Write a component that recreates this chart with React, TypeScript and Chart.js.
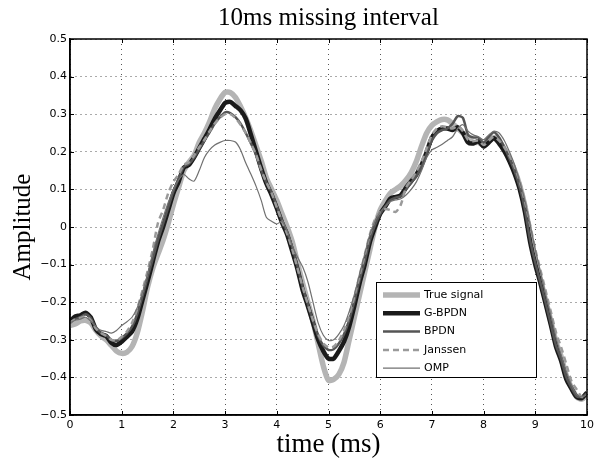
import React, { useEffect, useRef } from "react";
import { Chart, registerables } from "chart.js";

Chart.register(...registerables);

const TITLE = "10ms missing interval";
const X_LABEL = "time (ms)";
const Y_LABEL = "Amplitude";

const xTicks = [0, 1, 2, 3, 4, 5, 6, 7, 8, 9, 10];
const yTicks = [-0.5, -0.4, -0.3, -0.2, -0.1, 0, 0.1, 0.2, 0.3, 0.4, 0.5];

const times = [
  0.0, 0.1, 0.2, 0.3, 0.4, 0.5, 0.6, 0.7, 0.8, 0.9,
  1.0, 1.1, 1.2, 1.3, 1.4, 1.5, 1.6, 1.7, 1.8, 1.9,
  2.0, 2.1, 2.2, 2.3, 2.4, 2.5, 2.6, 2.7, 2.8, 2.9,
  3.0, 3.1, 3.2, 3.3, 3.4, 3.5, 3.6, 3.7, 3.8, 3.9,
  4.0, 4.1, 4.2, 4.3, 4.4, 4.5, 4.6, 4.7, 4.8, 4.9,
  5.0, 5.1, 5.2, 5.3, 5.4, 5.5, 5.6, 5.7, 5.8, 5.9,
  6.0, 6.1, 6.2, 6.3, 6.4, 6.5, 6.6, 6.7, 6.8, 6.9,
  7.0, 7.1, 7.2, 7.3, 7.4, 7.5, 7.6, 7.7, 7.8, 7.9,
  8.0, 8.1, 8.2, 8.3, 8.4, 8.5, 8.6, 8.7, 8.8, 8.9,
  9.0, 9.1, 9.2, 9.3, 9.4, 9.5, 9.6, 9.7, 9.8, 9.9,
  10.0,
];

const trueSignal = [
  -0.262, -0.258, -0.25, -0.248, -0.255, -0.275, -0.29, -0.3, -0.315, -0.33,
  -0.336, -0.333, -0.318, -0.282, -0.225, -0.16, -0.11, -0.072, -0.035, 0.01,
  0.06, 0.105, 0.15, 0.172, 0.19, 0.225, 0.25, 0.28, 0.315, 0.34,
  0.358, 0.358, 0.345, 0.32, 0.29, 0.255, 0.215, 0.175, 0.13, 0.1,
  0.07, 0.035, 0.0, -0.04, -0.095, -0.15, -0.2, -0.25, -0.31, -0.37,
  -0.408, -0.405, -0.392, -0.36, -0.3, -0.24, -0.18, -0.12, -0.06, 0.0,
  0.045, 0.07, 0.09, 0.1, 0.11, 0.125, 0.145, 0.175, 0.215, 0.25,
  0.27, 0.28, 0.286, 0.285, 0.275, 0.262, 0.25, 0.235, 0.225, 0.225,
  0.218, 0.228, 0.238, 0.228, 0.208, 0.182, 0.15, 0.11, 0.055, -0.02,
  -0.085, -0.14, -0.195, -0.25, -0.305, -0.345, -0.395, -0.428, -0.452, -0.458,
  -0.445,
];

const gBpdn = [
  -0.25, -0.238, -0.235, -0.228, -0.24, -0.272, -0.285, -0.29, -0.308, -0.314,
  -0.305, -0.292, -0.278, -0.245, -0.195, -0.145, -0.092, -0.04, 0.0, 0.045,
  0.09, 0.12, 0.158, 0.165, 0.185, 0.21, 0.235, 0.26, 0.288, 0.31,
  0.33, 0.333, 0.322, 0.31, 0.288, 0.245, 0.2, 0.155, 0.115, 0.085,
  0.05, 0.012, -0.02, -0.065, -0.112, -0.168, -0.21, -0.255, -0.3, -0.33,
  -0.35, -0.35, -0.33, -0.305, -0.265, -0.21, -0.15, -0.1, -0.04, 0.0,
  0.035, 0.055, 0.076, 0.08, 0.085, 0.105, 0.122, 0.14, 0.165, 0.2,
  0.238, 0.255, 0.262, 0.262, 0.258, 0.265, 0.25, 0.225, 0.222, 0.228,
  0.214, 0.225, 0.236, 0.222, 0.202, 0.175, 0.142, 0.1, 0.04, -0.04,
  -0.1, -0.15, -0.205, -0.26, -0.318, -0.356, -0.405, -0.43, -0.452, -0.455,
  -0.44,
];

const bpdn = [
  -0.255, -0.245, -0.24, -0.232, -0.242, -0.268, -0.282, -0.288, -0.3, -0.303,
  -0.295, -0.283, -0.265, -0.232, -0.185, -0.135, -0.085, -0.035, 0.008, 0.052,
  0.095, 0.128, 0.16, 0.168, 0.185, 0.208, 0.23, 0.252, 0.275, 0.292,
  0.305, 0.303, 0.292, 0.275, 0.25, 0.222, 0.192, 0.15, 0.118, 0.092,
  0.055, 0.018, -0.015, -0.055, -0.105, -0.16, -0.205, -0.25, -0.29, -0.315,
  -0.327, -0.325, -0.31, -0.285, -0.248, -0.198, -0.142, -0.092, -0.035, 0.005,
  0.035, 0.055, 0.072, 0.078, 0.082, 0.1, 0.118, 0.135, 0.16, 0.195,
  0.23, 0.25, 0.258, 0.262, 0.275, 0.295, 0.29, 0.245, 0.238, 0.238,
  0.225, 0.24, 0.252, 0.238, 0.212, 0.182, 0.148, 0.105, 0.045, -0.035,
  -0.095, -0.148, -0.202, -0.258, -0.315, -0.352, -0.4, -0.428, -0.45, -0.452,
  -0.442,
];

const janssen = [
  -0.255, -0.245, -0.242, -0.238, -0.248, -0.27, -0.282, -0.29, -0.3, -0.302,
  -0.292, -0.278, -0.255, -0.218, -0.17, -0.118, -0.06, 0.01, 0.045, 0.09,
  0.12, 0.14, 0.165, 0.172, 0.19, 0.212, 0.232, 0.255, 0.275, 0.29,
  0.3, 0.3, 0.29, 0.272, 0.25, 0.222, 0.192, 0.152, 0.118, 0.09,
  0.052, 0.015, -0.018, -0.06, -0.11, -0.16, -0.205, -0.248, -0.285, -0.31,
  -0.32, -0.318, -0.302, -0.275, -0.235, -0.185, -0.13, -0.075, -0.02, 0.02,
  0.04, 0.048, 0.045, 0.04, 0.06, 0.105, 0.125, 0.148, 0.175, 0.21,
  0.245, 0.262, 0.268, 0.265, 0.262, 0.268, 0.255, 0.232, 0.228, 0.23,
  0.218, 0.23, 0.24, 0.23, 0.212, 0.19, 0.16, 0.12, 0.068, 0.005,
  -0.06, -0.115, -0.17, -0.225, -0.28, -0.32, -0.365, -0.41, -0.432, -0.452,
  -0.448,
];

const omp = [
  -0.255, -0.248, -0.245, -0.24, -0.25, -0.265, -0.275, -0.278, -0.282, -0.275,
  -0.262, -0.252, -0.24, -0.215, -0.175, -0.125, -0.07, -0.02, 0.025, 0.065,
  0.1, 0.125, 0.14, 0.128, 0.122, 0.15, 0.185, 0.205, 0.218, 0.225,
  0.23, 0.23, 0.226, 0.205, 0.17, 0.14, 0.108, 0.07, 0.025, 0.015,
  0.008, 0.015, -0.01, -0.05, -0.08, -0.106, -0.145, -0.2, -0.255, -0.288,
  -0.302, -0.3, -0.285, -0.262, -0.225, -0.18, -0.125, -0.072, -0.02, 0.015,
  0.04, 0.055, 0.068, 0.072, 0.075, 0.085, 0.1, 0.12, 0.15, 0.185,
  0.205, 0.212, 0.22, 0.23, 0.24, 0.262, 0.272, 0.255, 0.245, 0.24,
  0.232, 0.245, 0.255, 0.25, 0.23, 0.2, 0.165, 0.12, 0.07, 0.005,
  -0.06, -0.12, -0.18, -0.235, -0.295, -0.34, -0.385, -0.42, -0.445, -0.452,
  -0.445,
];

const seriesLabels = ["True signal", "G-BPDN", "BPDN", "Janssen", "OMP"];
const seriesValues = [trueSignal, gBpdn, bpdn, janssen, omp];
const seriesColors = ["#b4b4b4", "#1a1a1a", "#555555", "#9a9a9a", "#707070"];
const seriesWidths = [5.5, 4.5, 2.5, 2.5, 1.2];
const seriesDashes: number[][] = [[], [], [], [6, 4], []];

const SERIF = "'Liberation Serif', 'Times New Roman', serif";
const SANS = "'DejaVu Sans', sans-serif";

function fmtTick(v: number): string {
  const r = Math.round(v * 10) / 10;
  if (r === 0) return "0";
  const s = String(Math.abs(r));
  return r < 0 ? "\u2212" + s : s;
}

const framePlugin = {
  id: "frameAndLegend",
  afterDraw(chart: any) {
    const { ctx, chartArea, scales } = chart;
    const { left, right, top, bottom } = chartArea;
    const xs = scales.x;
    const ys = scales.y;
    ctx.save();
    ctx.strokeStyle = "#000";
    ctx.lineWidth = 1;
    ctx.setLineDash([]);
    ctx.beginPath();
    for (const v of xTicks) {
      const px = Math.round(xs.getPixelForValue(v)) + 0.5;
      ctx.moveTo(px, bottom);
      ctx.lineTo(px, bottom - 4);
      ctx.moveTo(px, top);
      ctx.lineTo(px, top + 4);
    }
    for (const v of yTicks) {
      const py = Math.round(ys.getPixelForValue(v)) + 0.5;
      ctx.moveTo(left, py);
      ctx.lineTo(left + 4, py);
      ctx.moveTo(right, py);
      ctx.lineTo(right - 4, py);
    }
    ctx.stroke();
    ctx.lineWidth = 1.5;
    ctx.strokeRect(left, top, right - left, bottom - top);

    // legend box
    const bx = 376.5;
    const by = 282.5;
    const bw = 160;
    const bh = 95;
    ctx.fillStyle = "#fff";
    ctx.fillRect(bx, by, bw, bh);
    ctx.lineWidth = 1;
    ctx.strokeStyle = "#000";
    ctx.strokeRect(bx, by, bw, bh);
    const rowStart = 295;
    const rowStep = 18.3;
    chart.data.datasets.forEach((ds: any, i: number) => {
      const yy = rowStart + i * rowStep;
      ctx.save();
      ctx.strokeStyle = ds.borderColor;
      ctx.lineWidth = ds.borderWidth;
      ctx.setLineDash(ds.borderDash || []);
      ctx.beginPath();
      ctx.moveTo(383, yy);
      ctx.lineTo(420, yy);
      ctx.stroke();
      ctx.restore();
      ctx.fillStyle = "#000";
      ctx.font = "11px " + SANS;
      ctx.textAlign = "left";
      ctx.textBaseline = "middle";
      ctx.fillText(ds.label, 424, yy);
    });
    ctx.restore();
  },
};

export default function App() {
  const canvasRef = useRef<HTMLCanvasElement | null>(null);

  useEffect(() => {
    document.body.style.margin = "0";
    const canvas = canvasRef.current;
    if (!canvas) return;
    const datasets = seriesLabels.map((label, i) => ({
      label,
      data: times.map((t, k) => ({ x: t, y: seriesValues[i][k] })),
      borderColor: seriesColors[i],
      backgroundColor: seriesColors[i],
      borderWidth: seriesWidths[i],
      borderDash: seriesDashes[i],
      pointRadius: 0,
      tension: 0.25,
      fill: false,
      order: seriesLabels.length - i,
    }));
    const chart = new Chart(canvas, {
      type: "line",
      data: { datasets },
      options: {
        responsive: false,
        animation: false,
        devicePixelRatio: 1,
        layout: { padding: { left: 0, right: 10, top: 0, bottom: 0 } },
        plugins: {
          legend: { display: false },
          tooltip: { enabled: false },
          title: {
            display: true,
            fullSize: false,
            text: TITLE,
            color: "#000",
            font: { family: SERIF, size: 25, weight: "normal" },
            padding: { top: 3, bottom: 6 },
          },
        },
        scales: {
          x: {
            type: "linear",
            min: 0,
            max: 10,
            afterFit: (s: any) => {
              s.height = 46;
            },
            ticks: {
              stepSize: 1,
              padding: 4,
              color: "#000",
              font: { family: SANS, size: 11 },
              maxRotation: 0,
              autoSkip: false,
              callback: (v: any) => String(v),
            },
            grid: { color: "#555", lineWidth: 1, drawTicks: false },
            border: { display: true, color: "#000", width: 1.5, dash: [1, 4] },
            title: {
              display: true,
              text: X_LABEL,
              color: "#000",
              font: { family: SERIF, size: 27, weight: "normal" },
              padding: { top: 0, bottom: 0 },
            },
          },
          y: {
            type: "linear",
            min: -0.5,
            max: 0.5,
            afterFit: (s: any) => {
              s.width = 70;
            },
            ticks: {
              stepSize: 0.1,
              padding: 3,
              color: "#000",
              font: { family: SANS, size: 11 },
              autoSkip: false,
              callback: (v: any) => fmtTick(Number(v)),
            },
            grid: { color: "#555", lineWidth: 1, drawTicks: false },
            border: { display: true, color: "#000", width: 1.5, dash: [1, 4] },
            title: {
              display: true,
              text: Y_LABEL,
              color: "#000",
              font: { family: SERIF, size: 25, weight: "normal" },
              padding: { top: 8.6, bottom: 0 },
            },
          },
        },
      },
      plugins: [framePlugin],
    });
    return () => chart.destroy();
  }, []);

  return (
    <div style={{ width: 598, height: 461, position: "relative" }}>
      <canvas ref={canvasRef} width={598} height={461} style={{ display: "block" }} />
    </div>
  );
}
